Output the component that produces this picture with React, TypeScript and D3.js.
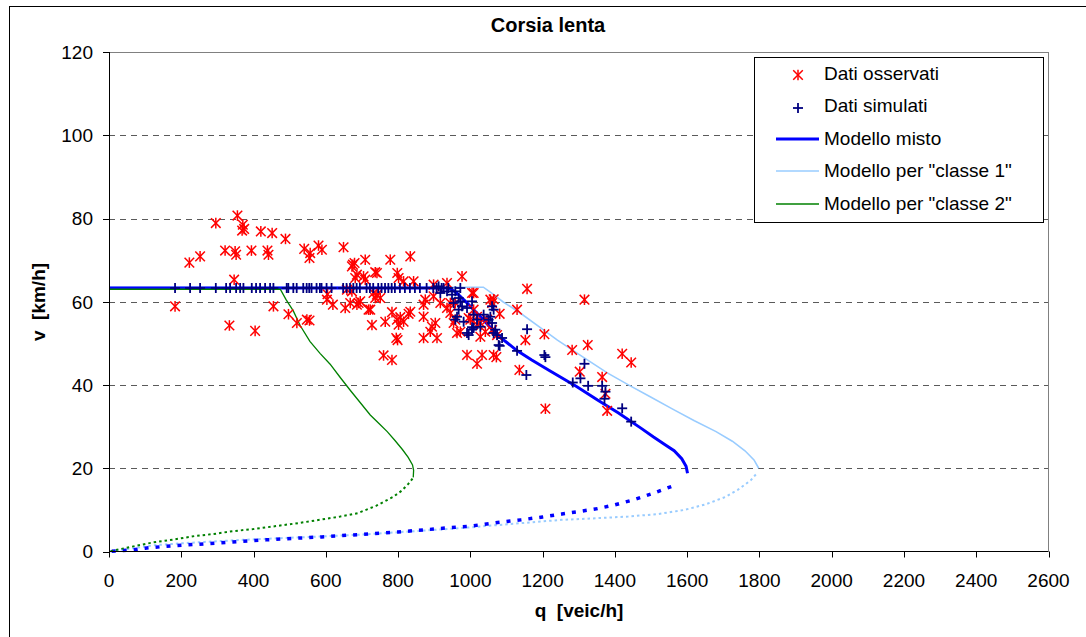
import React from "react";
import * as d3 from "d3";

// ---------- DATA ----------
const title = "Corsia lenta";
const xTitle = "q  [veic/h]";
const yTitle = "v  [km/h]";
const xTicks = [0, 200, 400, 600, 800, 1000, 1200, 1400, 1600, 1800, 2000, 2200, 2400, 2600];
const yTicks = [0, 20, 40, 60, 80, 100, 120];
const legendLabels = ["Dati osservati", "Dati simulati", "Modello misto", 'Modello per "classe 1"', 'Modello per "classe 2"'];

// Dati osservati [q, v]
const observed: [number, number][] = [
  [295.6, 78.9], [355.4, 80.7], [370.3, 78.5], [374, 77.5], [368.4, 77.1], [420.2, 76.9], [451.5, 76.5], [488.4, 75.1],
  [222.4, 69.4], [252.1, 70.9], [321.3, 72.3], [349.0, 72.1], [351.8, 71.3], [394.2, 72.3], [438.5, 72.3], [441.3, 71.3],
  [540.2, 72.7], [556.8, 71.7], [554.8, 70.5], [579.8, 73.5], [589.2, 72.5], [649.0, 73.1], [346.3, 65.3], [182.8, 58.9],
  [333.2, 54.3], [404.4, 53.0], [455.1, 58.9], [496.7, 57.0], [519.9, 54.9], [547.6, 55.7], [554.8, 55.5], [604.7, 61.8],
  [603.0, 60.5], [619.6, 59.3], [653.7, 58.5], [675.0, 68.9], [679.5, 69.3], [709.1, 70.1], [778.4, 70.1], [833.8, 70.9],
  [686.1, 66.5], [736.8, 67.1], [741.5, 66.9], [709.1, 65.3], [797.8, 66.9], [801.4, 65.7], [842.9, 64.9], [815.2, 64.9],
  [935.4, 64.5], [898.3, 64.1], [667.6, 59.7], [690.6, 59.7], [695.3, 60.1], [718.3, 58.1], [658.4, 62.9], [672.3, 62.5],
  [732.1, 62.1], [736.8, 60.9], [750.7, 60.9], [727.7, 54.4], [764.5, 55.2], [783.1, 57.5], [796.9, 55.7], [801.4, 54.5],
  [806.1, 56.3], [815.2, 55.2], [829.1, 57.1], [833.8, 57.6], [795.0, 51.3], [798.6, 50.8], [759.8, 47.1], [783.1, 46.0],
  [870.6, 51.3], [889.2, 52.8], [907.7, 51.3], [870.6, 59.3], [672.3, 68.5], [681.4, 65.7], [704.4, 66.1], [686.1, 59.3],
  [723.0, 58.1], [741.5, 61.7], [875.3, 60.5], [898.3, 61.3], [916.9, 59.7], [935.4, 58.5], [944.6, 59.7], [958.4, 59.7],
  [977.0, 66.1], [870.6, 56.4], [893.9, 54.0], [903.0, 54.9], [944.6, 57.3], [958.4, 55.7], [963.1, 52.5], [972.3, 52.8],
  [1000.0, 55.7], [1009.1, 58.1], [1009.1, 62.1], [1018.5, 56.4], [1027.7, 54.9], [1046.2, 55.7], [1055.4, 60.5],
  [990.8, 47.2], [1032.4, 47.2], [1064.5, 47.2], [1041.5, 52.8], [1060.1, 53.2], [1073.9, 52.0], [1129.3, 58.1],
  [1152.3, 50.8], [1157.0, 63.1], [1315.8, 60.5], [1004.7, 62.1], [1064.5, 60.6], [1060.1, 59.7], [1081.1, 57.1],
  [995.3, 56.1], [953.7, 54.9], [1018.5, 54.5], [1027.7, 51.6], [1018.5, 45.1], [1072.0, 46.7], [1204.9, 52.2],
  [1135.7, 43.6], [1207.7, 34.3], [1281.7, 48.4], [1324.9, 49.6], [1302.7, 43.2], [1364.8, 41.9], [1373.9, 37.9],
  [1378.6, 33.8], [1420.2, 47.5], [1445.1, 45.4],
];

// Dati simulati: q values on the free-flow branch (v = 63.3)
const simulatedFlatQ = [
  182.8, 224.4, 252.1, 295.6, 324.1, 335.2, 351.8, 362.9, 372.0, 395.1, 407.0, 418.1, 432.0, 445.8, 455.0, 491.8, 496.2,
  510.1, 519.4, 537.6, 547.0, 554.1, 560.5, 574.4, 583.6, 588.2, 602.1, 615.9, 648.0, 657.4, 667.0, 676.1, 685.3, 694.3,
  712.8, 722.0, 731.2, 745.0, 754.3, 763.9, 773.1, 782.3, 791.2, 805.1, 818.9, 832.7, 846.6, 860.4, 879.0, 897.3, 906.7,
  920.6, 939.2,
];
const simulatedFlatV = 63.3;
// Dati simulati: other points [q, v]
const simulatedOther: [number, number][] = [
  [926.0, 63.3], [972.3, 63.3], [912.2, 63.7], [916.9, 62.1], [935.4, 62.5], [949.3, 61.7], [958.4, 62.5], [967.6, 60.9],
  [953.7, 59.7], [972.3, 60.1], [977.0, 58.9], [990.8, 58.5], [1004.7, 60.1], [1009.1, 56.9], [1018.5, 55.7], [963.1, 56.4],
  [958.4, 55.7], [967.6, 58.1], [981.4, 55.2], [990.8, 52.5], [1004.7, 53.3], [1009.1, 53.7], [1027.7, 54.0], [1036.8, 56.9],
  [1050.6, 55.7], [1055.4, 56.4], [1060.1, 54.9], [1064.5, 58.1], [1060.1, 58.9], [1069.2, 53.3], [1073.9, 52.0],
  [995.3, 52.0], [1004.7, 53.9], [1064.5, 52.5], [1078.4, 49.6], [1081.1, 49.4], [1087.8, 51.3], [1129.3, 48.2],
  [1157.0, 53.4], [1155.0, 42.4], [1204.9, 47.2], [1207.7, 46.7], [1315.8, 45.1], [1304.7, 41.6], [1283.4, 40.6],
  [1326.0, 39.8], [1364.8, 39.8], [1373.9, 38.4], [1371.2, 36.7], [1420.2, 34.4], [1445.1, 31.2],
];

// Modello misto
const mixedUpper: [number, number][] = [
  [0, 63.3], [940, 63.3], [960, 62.3], [990, 59.8], [1028, 56.4], [1075, 52.0], [1130, 48.2], [1170, 46.0], [1222, 43.3],
  [1295, 39.6], [1352, 36.4], [1410, 33.3], [1471, 29.7], [1507, 27.5], [1540, 25.6], [1564, 24.2], [1585, 22.3],
  [1597, 20.5], [1601, 18.8],
];
const mixedLower: [number, number][] = [
  [1556, 15.6], [1500, 13.8], [1451, 12.4], [1400, 11.2], [1352, 10.3], [1300, 9.6], [1253, 9.0], [1200, 8.3], [1140, 7.6],
  [1070, 6.9], [1000, 6.1], [940, 5.7], [886, 5.3], [800, 4.7], [730, 4.3], [660, 3.9], [589, 3.5], [520, 3.2], [434, 2.8],
  [360, 2.4], [292, 2.0], [220, 1.6], [151, 1.2], [100, 0.8], [66, 0.4], [0, 0],
];
// Modello per "classe 1"
const class1Upper: [number, number][] = [
  [0, 63.5], [1036, 63.5], [1060, 62.0], [1090, 60.0], [1138, 57.3], [1190, 54.0], [1241, 50.8], [1310, 46.8],
  [1379, 42.9], [1440, 39.9], [1499, 37.1], [1560, 34.2], [1620, 31.4], [1680, 28.8], [1725, 26.5], [1760, 24.2],
  [1785, 22.0], [1798, 20.0],
];
const class1Lower: [number, number][] = [
  [1790, 18.5], [1776, 17.1], [1740, 14.8], [1706, 13.1], [1650, 11.3], [1593, 10.0], [1520, 9.0], [1437, 8.4], [1350, 8.0],
  [1253, 7.6], [1180, 7.1], [1112, 6.6], [1040, 6.1], [971, 5.6], [900, 5.2], [829, 4.8], [760, 4.4], [688, 4.0],
  [580, 3.6], [476, 3.2], [370, 2.8], [264, 2.3], [190, 1.9], [123, 1.5], [60, 0.7], [0, 0],
];
// Modello per "classe 2"
const class2Upper: [number, number][] = [
  [0, 63.0], [474, 63.0], [490, 60.5], [510, 57.8], [529, 54.3], [556, 50.5], [584, 47.6], [612, 45.0], [640, 41.8],
  [667, 38.8], [695, 35.8], [723, 32.8], [750, 30.5], [770, 28.8], [792, 26.6], [812, 24.5], [828, 22.6], [840, 20.8],
  [843, 19.5], [842, 17.8],
];
const class2Lower: [number, number][] = [
  [840, 17.5], [829, 16.3], [810, 14.6], [786, 13.1], [740, 11.0], [688, 9.2], [640, 8.4], [589, 7.7], [530, 6.9],
  [462, 6.1], [400, 5.4], [335, 4.8], [290, 4.2], [236, 3.7], [180, 2.9], [123, 2.2], [60, 1.1], [0, 0],
];

// ---------- STYLE ----------
const W = 1086;
const H = 637;
const plot = { left: 109, right: 1048.5, top: 52, bottom: 551.5 };
const FONT = "'Liberation Sans', Arial, Helvetica, sans-serif";
const RED = "#FF0000";
const NAVY = "#000080";
const BLUE = "#0000FF";
const LIGHT = "#99CCFF";
const GREEN = "#008000";

function Asterisk({ x, y, r = 4.8 }: { x: number; y: number; r?: number }) {
  return (
    <g stroke={RED} strokeWidth={1.5} fill="none">
      <line x1={x - r} y1={y - r} x2={x + r} y2={y + r} />
      <line x1={x - r} y1={y + r} x2={x + r} y2={y - r} />
      <line x1={x} y1={y - r - 0.5} x2={x} y2={y + r + 0.5} />
    </g>
  );
}

function Plus({ x, y, r = 5 }: { x: number; y: number; r?: number }) {
  return (
    <g stroke={NAVY} strokeWidth={1.8} fill="none">
      <line x1={x - r} y1={y} x2={x + r} y2={y} />
      <line x1={x} y1={y - r} x2={x} y2={y + r} />
    </g>
  );
}

export default function App() {
  const xs = d3.scaleLinear().domain([0, 2600]).range([plot.left, plot.right]);
  const ys = d3.scaleLinear().domain([0, 120]).range([plot.bottom, plot.top]);
  const line = d3
    .line<[number, number]>()
    .x((d) => xs(d[0]))
    .y((d) => ys(d[1]));

  const simulated: [number, number][] = [
    ...simulatedFlatQ.map((q) => [q, simulatedFlatV] as [number, number]),
    ...simulatedOther,
  ];

  const legendX = 754;
  const legendY = 57;
  const legendW = 289;
  const legendH = 165;
  const rowY = [73, 105, 138, 170, 203];
  const markX = 798;
  const textX = 824;

  return (
    <div style={{ position: "absolute", left: 0, top: 0 }}>
      <svg width={W} height={H} style={{ display: "block", fontFamily: FONT }}>
        <rect x={0} y={0} width={W} height={H} fill="#fff" />
        <rect x={9.5} y={6.5} width={W + 20} height={H + 20} fill="none" stroke="#000" strokeWidth={1} />

        {/* grid */}
        {yTicks
          .filter((t) => t > 0 && t < 120)
          .map((t) => (
            <line
              key={"g" + t}
              x1={plot.left}
              x2={plot.right}
              y1={Math.round(ys(t)) + 0.5}
              y2={Math.round(ys(t)) + 0.5}
              stroke="#5a5a5a"
              strokeWidth={1}
              strokeDasharray="6,5"
            />
          ))}
        <line x1={plot.left} x2={plot.right} y1={ys(120) + 0.5} y2={ys(120) + 0.5} stroke="#808080" strokeWidth={1} />
        <line x1={plot.right} x2={plot.right} y1={plot.top} y2={plot.bottom} stroke="#808080" strokeWidth={1} />

        {/* model curves */}
        <path d={line(class1Upper) || ""} fill="none" stroke={LIGHT} strokeWidth={1.6} />
        <path d={line(class1Lower) || ""} fill="none" stroke={LIGHT} strokeWidth={2} strokeDasharray="2.5,3" />
        <path d={line(mixedUpper) || ""} fill="none" stroke={BLUE} strokeWidth={3} />
        <path d={line(mixedLower) || ""} fill="none" stroke={BLUE} strokeWidth={3.5} strokeDasharray="4,7" />
        <path d={line(class2Upper) || ""} fill="none" stroke={GREEN} strokeWidth={1.3} />
        <path d={line(class2Lower) || ""} fill="none" stroke={GREEN} strokeWidth={2} strokeDasharray="2.5,3" />

        {/* points */}
        {observed.map((d, i) => (
          <Asterisk key={"o" + i} x={xs(d[0])} y={ys(d[1])} />
        ))}
        {simulated.map((d, i) => (
          <Plus key={"s" + i} x={xs(d[0])} y={ys(d[1])} />
        ))}

        {/* axes */}
        <line x1={plot.left + 0.5} x2={plot.left + 0.5} y1={plot.top} y2={plot.bottom} stroke="#000" strokeWidth={1} />
        <line x1={plot.left} x2={plot.right} y1={plot.bottom} y2={plot.bottom} stroke="#000" strokeWidth={1.2} />
        {yTicks.map((t) => (
          <g key={"yt" + t}>
            <line x1={plot.left - 6} x2={plot.left} y1={Math.round(ys(t)) + 0.5} y2={Math.round(ys(t)) + 0.5} stroke="#000" />
            <text x={93} y={ys(t)} dy="0.36em" textAnchor="end" fontSize={19} fill="#000">
              {t}
            </text>
          </g>
        ))}
        {xTicks.map((t) => (
          <g key={"xt" + t}>
            <line x1={Math.round(xs(t)) + 0.5} x2={Math.round(xs(t)) + 0.5} y1={plot.bottom} y2={plot.bottom + 6} stroke="#000" />
            <text x={xs(t)} y={580} dy="0.36em" textAnchor="middle" fontSize={19} fill="#000">
              {t}
            </text>
          </g>
        ))}

        {/* titles */}
        <text x={548} y={25} dy="0.36em" textAnchor="middle" fontSize={20} fontWeight="bold">
          {title}
        </text>
        <text x={579} y={610} dy="0.36em" textAnchor="middle" fontSize={19} fontWeight="bold" style={{ whiteSpace: "pre" }}>
          {xTitle}
        </text>
        <text
          transform={`translate(38,302) rotate(-90)`}
          dy="0.36em"
          textAnchor="middle"
          fontSize={19}
          fontWeight="bold"
          style={{ whiteSpace: "pre" }}
        >
          {yTitle}
        </text>

        {/* legend */}
        <rect x={legendX + 0.5} y={legendY + 0.5} width={legendW} height={legendH} fill="#fff" stroke="#000" strokeWidth={1} />
        <Asterisk x={markX} y={rowY[0] + 2} />
        <Plus x={markX} y={rowY[1] + 3} />
        <line x1={776} x2={819} y1={rowY[2] + 1} y2={rowY[2] + 1} stroke={BLUE} strokeWidth={3} />
        <line x1={776} x2={819} y1={rowY[3] + 1} y2={rowY[3] + 1} stroke={LIGHT} strokeWidth={1.6} />
        <line x1={776} x2={819} y1={rowY[4] + 1} y2={rowY[4] + 1} stroke={GREEN} strokeWidth={1.3} />
        {legendLabels.map((l, i) => (
          <text key={"l" + i} x={textX} y={rowY[i]} dy="0.36em" fontSize={19} fill="#000">
            {l}
          </text>
        ))}
      </svg>
    </div>
  );
}
